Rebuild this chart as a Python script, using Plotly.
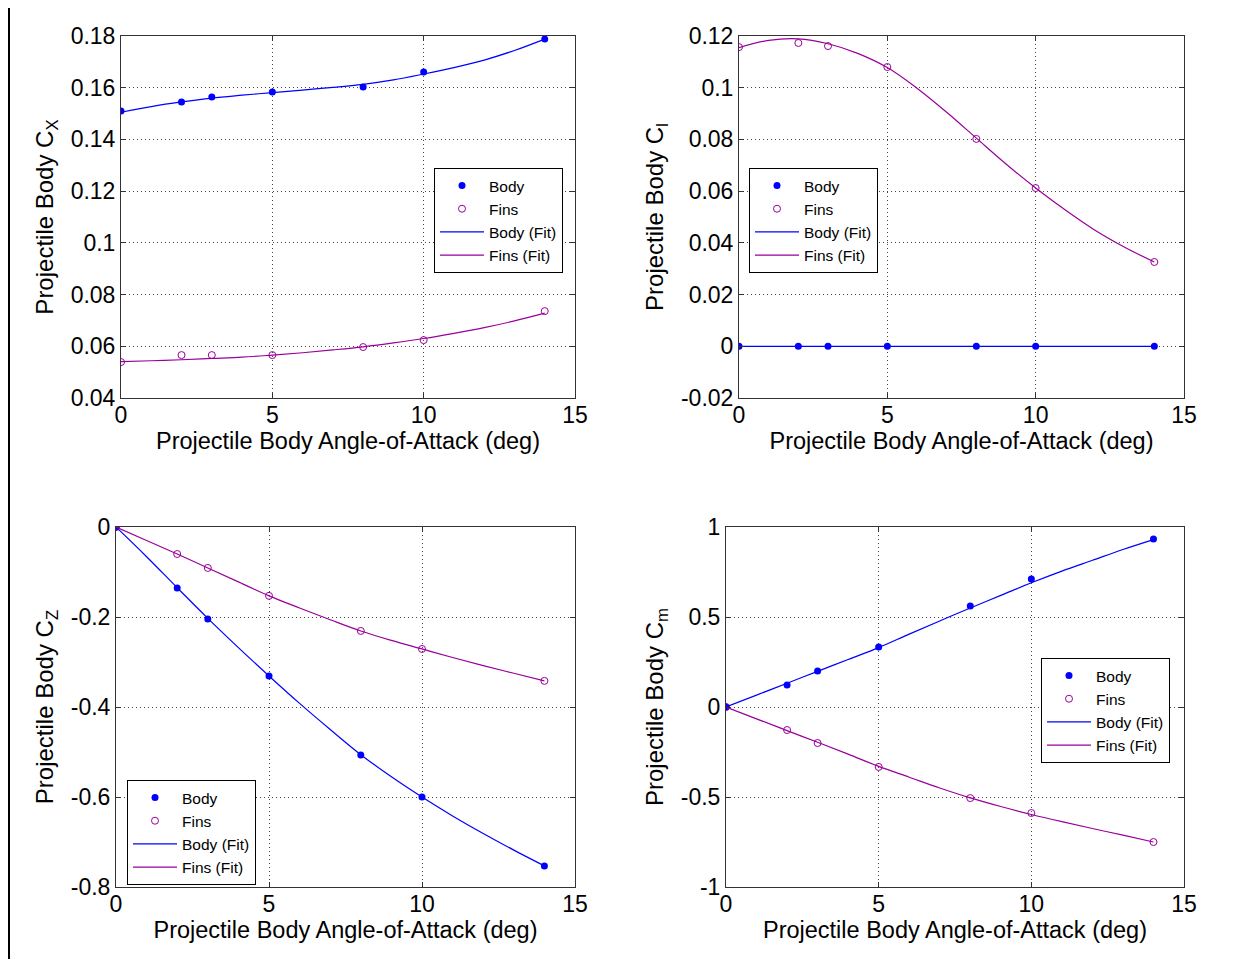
import plotly.graph_objects as go

# ---------------- data ----------------
aoa = [0, 2, 3, 5, 8, 10, 14]
fit_aoa = [0, 1, 2, 3, 4, 5, 6, 7, 8, 9, 10, 11, 12, 13, 14]

cx_body = [0.1510, 0.1545, 0.1564, 0.1583, 0.1603, 0.1661, 0.1788]
cx_fins = [0.0539, 0.0566, 0.0566, 0.0566, 0.0597, 0.0624, 0.0736]
cx_body_fit = [0.1505, 0.1527, 0.1545, 0.1560, 0.1571, 0.1581, 0.1591, 0.1601,
               0.1613, 0.1630, 0.1653, 0.1678, 0.1707, 0.1744, 0.1788]
cx_fins_fit = [0.0541, 0.0544, 0.0548, 0.0553, 0.0558, 0.0566, 0.0575, 0.0586,
               0.0598, 0.0613, 0.0630, 0.0650, 0.0672, 0.0698, 0.0728]

cl_body = [0, 0, 0, 0, 0, 0, 0]
cl_fins = [0.1157, 0.1173, 0.1161, 0.1080, 0.0802, 0.0612, 0.0326]
cl_body_fit = [0] * 15
cl_fins_fit = [0.1155, 0.1183, 0.1189, 0.1170, 0.1133, 0.1078, 0.0998, 0.0905,
               0.0805, 0.0705, 0.0612, 0.0527, 0.0449, 0.0383, 0.0326]

cz_body = [0.0, -0.1356, -0.2044, -0.331, -0.5067, -0.600, -0.7533]
cz_fins = [0.0, -0.060, -0.091, -0.153, -0.231, -0.271, -0.342]
cz_body_fit = [0.0, -0.066, -0.135, -0.203, -0.268, -0.331, -0.392, -0.450,
               -0.506, -0.555, -0.600, -0.642, -0.681, -0.718, -0.753]
cz_fins_fit = [0.0, -0.030, -0.060, -0.091, -0.122, -0.153, -0.180, -0.206,
               -0.231, -0.252, -0.271, -0.290, -0.308, -0.325, -0.342]

cm_body = [0.0, 0.122, 0.200, 0.333, 0.561, 0.711, 0.933]
cm_fins = [0.0, -0.128, -0.200, -0.333, -0.506, -0.589, -0.750]
cm_body_fit = [0.0, 0.066, 0.132, 0.198, 0.264, 0.330, 0.405, 0.478,
               0.550, 0.620, 0.690, 0.755, 0.815, 0.875, 0.930]
cm_fins_fit = [0.0, -0.066, -0.131, -0.196, -0.262, -0.330, -0.390, -0.450,
               -0.505, -0.553, -0.597, -0.637, -0.675, -0.712, -0.750]

x_ticks = [0, 5, 10, 15]
cx_ticks = [0.04, 0.06, 0.08, 0.10, 0.12, 0.14, 0.16, 0.18]
cx_ticklabels = ["0.04", "0.06", "0.08", "0.1", "0.12", "0.14", "0.16", "0.18"]
cl_ticks = [-0.02, 0, 0.02, 0.04, 0.06, 0.08, 0.10, 0.12]
cl_ticklabels = ["-0.02", "0", "0.02", "0.04", "0.06", "0.08", "0.1", "0.12"]
cz_ticks = [-0.8, -0.6, -0.4, -0.2, 0]
cz_ticklabels = ["-0.8", "-0.6", "-0.4", "-0.2", "0"]
cm_ticks = [-1, -0.5, 0, 0.5, 1]
cm_ticklabels = ["-1", "-0.5", "0", "0.5", "1"]

x_title = "Projectile Body Angle-of-Attack (deg)"
y_titles = ["Projectile Body C<sub>X</sub>", "Projectile Body C<sub>l</sub>",
            "Projectile Body C<sub>Z</sub>", "Projectile Body C<sub>m</sub>"]

# ---------------- styling ----------------
W, H = 1247, 959
OFF = 8  # page body margin offset
BLUE = "#0000FF"
PURP = "#990099"
FONT = "Arial, Liberation Sans, sans-serif"

def px_x(p):
    return (p - OFF) / W

def px_y(p):
    return 1 - (p - OFF) / H

panels = [
    dict(x=(121, 575), y=(36, 398), yr=(0.04, 0.18), tv=cx_ticks, tt=cx_ticklabels,
         body=cx_body, fins=cx_fins, bfit=cx_body_fit, ffit=cx_fins_fit, leg=(434, 168)),
    dict(x=(739, 1184), y=(36, 398), yr=(-0.02, 0.12), tv=cl_ticks, tt=cl_ticklabels,
         body=cl_body, fins=cl_fins, bfit=cl_body_fit, ffit=cl_fins_fit, leg=(749, 168)),
    dict(x=(116, 575), y=(527, 887), yr=(-0.8, 0), tv=cz_ticks, tt=cz_ticklabels,
         body=cz_body, fins=cz_fins, bfit=cz_body_fit, ffit=cz_fins_fit, leg=(127, 780)),
    dict(x=(726, 1184), y=(527, 887), yr=(-1, 1), tv=cm_ticks, tt=cm_ticklabels,
         body=cm_body, fins=cm_fins, bfit=cm_body_fit, ffit=cm_fins_fit, leg=(1041, 658)),
]

fig = go.Figure()
layout = dict(
    width=W, height=H, margin=dict(l=0, r=0, t=0, b=0, pad=0, autoexpand=False),
    paper_bgcolor="white", plot_bgcolor="white",
    font=dict(family=FONT, size=23, color="black"),
    showlegend=True,
)

axis_common = dict(
    showline=True, linecolor="#333333", linewidth=1, mirror="ticks",
    ticks="inside", ticklen=5, tickcolor="#333333", tickwidth=1,
    showgrid=True, gridcolor="#444444", gridwidth=1, griddash="1px,3px",
    zeroline=False, automargin=False,
    tickfont=dict(family=FONT, size=23, color="black"),
)

for i, p in enumerate(panels):
    n = "" if i == 0 else str(i + 1)
    xa, ya = "x" + n, "y" + n
    lg = "legend" + n
    fig.add_trace(go.Scatter(x=aoa, y=p["body"], mode="markers", name="Body",
                             marker=dict(symbol="circle", size=7, color=BLUE),
                             xaxis=xa, yaxis=ya, legend=lg))
    fig.add_trace(go.Scatter(x=aoa, y=p["fins"], mode="markers", name="Fins",
                             marker=dict(symbol="circle-open", size=7, color=PURP,
                                         line=dict(width=1, color=PURP)),
                             xaxis=xa, yaxis=ya, legend=lg))
    fig.add_trace(go.Scatter(x=fit_aoa, y=p["bfit"], mode="lines", name="Body (Fit)",
                             line=dict(color=BLUE, width=1.2, shape="spline"),
                             xaxis=xa, yaxis=ya, legend=lg))
    fig.add_trace(go.Scatter(x=fit_aoa, y=p["ffit"], mode="lines", name="Fins (Fit)",
                             line=dict(color=PURP, width=1.2, shape="spline"),
                             xaxis=xa, yaxis=ya, legend=lg))

    layout["xaxis" + n] = dict(
        axis_common, domain=[px_x(p["x"][0]), px_x(p["x"][1])], range=[0, 15],
        tickvals=x_ticks, ticktext=[str(t) for t in x_ticks], anchor=ya,
        ticklabelstandoff=-4,
        title=dict(text=x_title, font=dict(family=FONT, size=23.5), standoff=0),
    )
    layout["yaxis" + n] = dict(
        axis_common, domain=[px_y(p["y"][1]), px_y(p["y"][0])], range=list(p["yr"]),
        tickvals=p["tv"], ticktext=p["tt"], anchor=xa,
        title=dict(text=y_titles[i], font=dict(family=FONT, size=24), standoff=10),
    )
    layout[lg] = dict(
        x=px_x(p["leg"][0]), y=px_y(p["leg"][1]), xanchor="left", yanchor="top",
        xref="paper", yref="paper",
        bgcolor="white", bordercolor="black", borderwidth=1,
        font=dict(family=FONT, size=15.5, color="black"), tracegroupgap=0,
        itemwidth=44,
    )

layout["shapes"] = [
    dict(type="line", xref="paper", yref="paper", x0=px_x(8.5), x1=px_x(8.5), y0=0, y1=1,
         line=dict(color="black", width=3)),
]

fig.update_layout(**layout)
fig.write_html("out.html")
